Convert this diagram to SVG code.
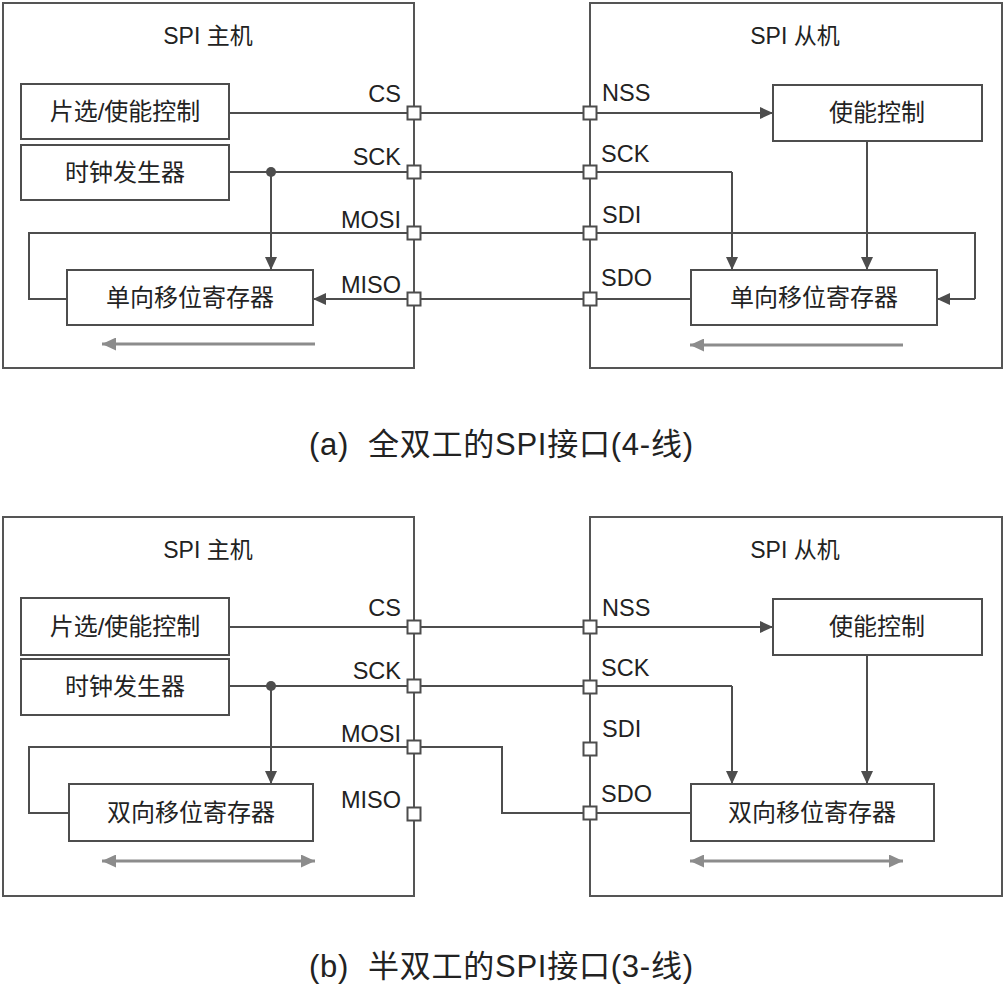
<svg xmlns="http://www.w3.org/2000/svg" width="1004" height="1000" viewBox="0 0 1004 1000">
  <style>
    .frame { fill: none; stroke: #555; stroke-width: 2; }
    .blk { fill: #fff; stroke: #4d4d4d; stroke-width: 2; }
    .port { fill: #fff; stroke: #4d4d4d; stroke-width: 2; }
    .wire { fill: none; stroke: #4d4d4d; stroke-width: 2; }
    .wire-a { fill: none; stroke: #4d4d4d; stroke-width: 2; marker-end: url(#head); }
    .shift { fill: none; stroke: #8c8c8c; stroke-width: 3; }
    text { font-family: "Liberation Sans", "Noto Sans CJK SC", sans-serif; fill: #222; }
    .title { font-size: 23px; text-anchor: middle; }
    .blabel { font-size: 24px; text-anchor: middle; }
    .pin-r { font-size: 23.5px; text-anchor: end; }
    .pin-l { font-size: 23.5px; text-anchor: start; }
    .cap { font-size: 31px; white-space: pre; }
  </style>
  <defs>
    <marker id="head" markerUnits="userSpaceOnUse" markerWidth="14" markerHeight="12" refX="13" refY="6" orient="auto">
      <path d="M0,0 L13,6 L0,12 Z" fill="#4d4d4d"/>
    </marker>
    <marker id="ghead" markerUnits="userSpaceOnUse" markerWidth="15" markerHeight="13" refX="14" refY="6.5" orient="auto-start-reverse">
      <path d="M0,0 L14,6.5 L0,13 Z" fill="#8c8c8c"/>
    </marker>
  </defs>

  <!-- (a) full duplex -->
  <g id="a-master">
    <rect class="frame" x="3" y="3" width="411" height="365"/>
    <text class="title" x="208" y="44">SPI 主机</text>
  </g>
  <g id="a-slave">
    <rect class="frame" x="590" y="3" width="412" height="365"/>
    <text class="title" x="795" y="44">SPI 从机</text>
  </g>
  <g id="a-cs-ctrl">
    <rect class="blk" x="21" y="84" width="208" height="55"/>
    <text class="blabel" x="125" y="120">片选/使能控制</text>
  </g>
  <g id="a-clkgen">
    <rect class="blk" x="21" y="145" width="208" height="55"/>
    <text class="blabel" x="125" y="181">时钟发生器</text>
  </g>
  <g id="a-mshift">
    <rect class="blk" x="67" y="270" width="246" height="55"/>
    <text class="blabel" x="190" y="306">单向移位寄存器</text>
  </g>
  <g id="a-en">
    <rect class="blk" x="773" y="85" width="209" height="56"/>
    <text class="blabel" x="877" y="121">使能控制</text>
  </g>
  <g id="a-sshift">
    <rect class="blk" x="691" y="270" width="246" height="55"/>
    <text class="blabel" x="814" y="306">单向移位寄存器</text>
  </g>

  <g id="a-wires">
    <path class="wire" d="M229,113 H590"/>
    <path class="wire-a" d="M590,113 H773"/>
    <path class="wire" d="M229,172 H590 H732"/>
    <path class="wire-a" d="M271,172 V270"/>
    <path class="wire-a" d="M732,172 V270"/>
    <path class="wire-a" d="M867,141 V270"/>
    <path class="wire" d="M67,299 H29 V233 H975 V299"/>
    <path class="wire-a" d="M975,299 H937"/>
    <path class="wire" d="M691,299 H414"/>
    <path class="wire-a" d="M414,299 H313"/>
    <circle cx="271" cy="172" r="5" fill="#4d4d4d"/>
    <path class="shift" d="M315,344 H102" marker-end="url(#ghead)"/>
    <path class="shift" d="M903,345 H690" marker-end="url(#ghead)"/>
  </g>

  <g id="a-ports">
    <rect class="port" x="407.5" y="106.5" width="13" height="13"/>
    <rect class="port" x="407.5" y="165.5" width="13" height="13"/>
    <rect class="port" x="407.5" y="226.5" width="13" height="13"/>
    <rect class="port" x="407.5" y="292.5" width="13" height="13"/>
    <rect class="port" x="583.5" y="106.5" width="13" height="13"/>
    <rect class="port" x="583.5" y="165.5" width="13" height="13"/>
    <rect class="port" x="583.5" y="226.5" width="13" height="13"/>
    <rect class="port" x="583.5" y="292.5" width="13" height="13"/>
    <text class="pin-r" x="401" y="102">CS</text>
    <text class="pin-r" x="401" y="165">SCK</text>
    <text class="pin-r" x="401" y="228">MOSI</text>
    <text class="pin-r" x="401" y="293">MISO</text>
    <text class="pin-l" x="602" y="101">NSS</text>
    <text class="pin-l" x="601" y="162">SCK</text>
    <text class="pin-l" x="602" y="223">SDI</text>
    <text class="pin-l" x="601" y="286">SDO</text>
  </g>

  <text class="cap" x="309" y="455" textLength="384" lengthAdjust="spacing">(a)  全双工的SPI接口(4-线)</text>

  <!-- (b) half duplex -->
  <g id="b-master">
    <rect class="frame" x="3" y="517" width="411" height="379"/>
    <text class="title" x="208" y="558">SPI 主机</text>
  </g>
  <g id="b-slave">
    <rect class="frame" x="590" y="517" width="412" height="379"/>
    <text class="title" x="795" y="558">SPI 从机</text>
  </g>
  <g id="b-cs-ctrl">
    <rect class="blk" x="21" y="598" width="208" height="57"/>
    <text class="blabel" x="125" y="635">片选/使能控制</text>
  </g>
  <g id="b-clkgen">
    <rect class="blk" x="21" y="659" width="208" height="56"/>
    <text class="blabel" x="125" y="695">时钟发生器</text>
  </g>
  <g id="b-mshift">
    <rect class="blk" x="69" y="784" width="244" height="57"/>
    <text class="blabel" x="191" y="821">双向移位寄存器</text>
  </g>
  <g id="b-en">
    <rect class="blk" x="773" y="599" width="209" height="56"/>
    <text class="blabel" x="877" y="635">使能控制</text>
  </g>
  <g id="b-sshift">
    <rect class="blk" x="691" y="784" width="243" height="57"/>
    <text class="blabel" x="812" y="821">双向移位寄存器</text>
  </g>

  <g id="b-wires">
    <path class="wire" d="M229,627 H590"/>
    <path class="wire-a" d="M590,627 H773"/>
    <path class="wire" d="M229,686 H590 H732"/>
    <path class="wire-a" d="M271,686 V784"/>
    <path class="wire-a" d="M732,686 V784"/>
    <path class="wire-a" d="M867,655 V784"/>
    <path class="wire" d="M69,813 H29 V747 H502 V813 H691"/>
    <circle cx="271" cy="686" r="5" fill="#4d4d4d"/>
    <path class="shift" d="M102,861 H315" marker-start="url(#ghead)" marker-end="url(#ghead)"/>
    <path class="shift" d="M690,861 H903" marker-start="url(#ghead)" marker-end="url(#ghead)"/>
  </g>

  <g id="b-ports">
    <rect class="port" x="407.5" y="620.5" width="13" height="13"/>
    <rect class="port" x="407.5" y="679.5" width="13" height="13"/>
    <rect class="port" x="407.5" y="740.5" width="13" height="13"/>
    <rect class="port" x="407.5" y="807.5" width="13" height="13"/>
    <rect class="port" x="583.5" y="620.5" width="13" height="13"/>
    <rect class="port" x="583.5" y="680.5" width="13" height="13"/>
    <rect class="port" x="583.5" y="742.5" width="13" height="13"/>
    <rect class="port" x="583.5" y="806.5" width="13" height="13"/>
    <text class="pin-r" x="401" y="616">CS</text>
    <text class="pin-r" x="401" y="679">SCK</text>
    <text class="pin-r" x="401" y="742">MOSI</text>
    <text class="pin-r" x="401" y="808">MISO</text>
    <text class="pin-l" x="602" y="616">NSS</text>
    <text class="pin-l" x="601" y="676">SCK</text>
    <text class="pin-l" x="602" y="737">SDI</text>
    <text class="pin-l" x="601" y="802">SDO</text>
  </g>

  <text class="cap" x="309" y="977" textLength="384" lengthAdjust="spacing">(b)  半双工的SPI接口(3-线)</text>
</svg>
